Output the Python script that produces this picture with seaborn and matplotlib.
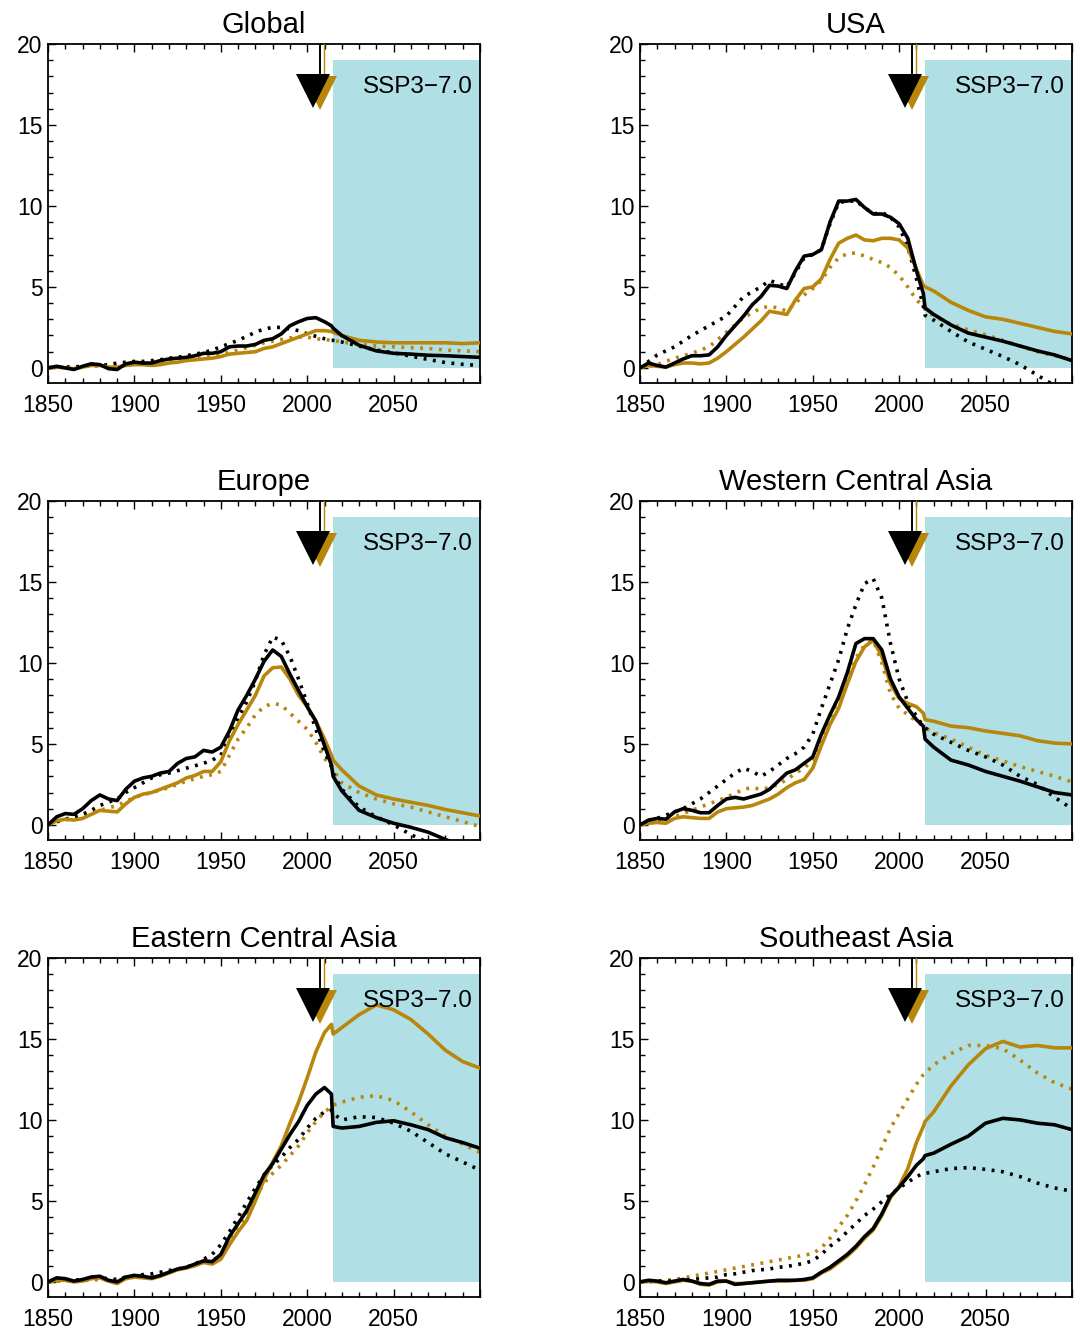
import matplotlib
matplotlib.use("Agg")
import matplotlib.pyplot as plt
from matplotlib.ticker import MultipleLocator
import seaborn as sns

# years shared by every series (5-yearly history, then the scenario)
years = [1850, 1855, 1860, 1865, 1870, 1875, 1880, 1885, 1890, 1895,
         1900, 1905, 1910, 1915, 1920, 1925, 1930, 1935, 1940, 1945,
         1950, 1955, 1960, 1965, 1970, 1975, 1980, 1985, 1990, 1995,
         2000, 2005, 2010, 2014, 2015, 2020, 2030, 2040, 2050, 2060,
         2070, 2080, 2090, 2100]

# Global
global_black = [0.0, 0.1, 0.0, -0.1, 0.1, 0.25, 0.2, -0.05, -0.1, 0.25,
                0.35, 0.3, 0.3, 0.45, 0.55, 0.6, 0.65, 0.75, 0.9, 0.9,
                1.0, 1.3, 1.35, 1.35, 1.45, 1.7, 1.8, 2.1, 2.6, 2.85,
                3.05, 3.1, 2.85, 2.6, 2.45, 2.0, 1.4, 1.05, 0.9, 0.85,
                0.78, 0.75, 0.7, 0.65]
global_black_dot = [0.0, 0.05, 0.05, 0.05, 0.1, 0.15, 0.15, 0.2, 0.3, 0.35,
                    0.4, 0.4, 0.45, 0.5, 0.6, 0.65, 0.75, 0.85, 0.95, 1.1,
                    1.3, 1.5, 1.7, 1.95, 2.2, 2.4, 2.5, 2.5, 2.4, 2.3,
                    2.1, 1.95, 1.8, 1.7, 1.7, 1.6, 1.35, 1.1, 0.93, 0.72,
                    0.52, 0.33, 0.22, 0.15]
global_gold = [0.0, 0.05, 0.0, -0.05, 0.05, 0.15, 0.15, 0.05, 0.05, 0.15,
               0.2, 0.2, 0.15, 0.2, 0.3, 0.35, 0.45, 0.5, 0.55, 0.6,
               0.7, 0.85, 0.9, 0.95, 1.0, 1.2, 1.3, 1.5, 1.7, 1.9,
               2.1, 2.3, 2.3, 2.25, 2.2, 2.0, 1.7, 1.6, 1.55, 1.55,
               1.55, 1.55, 1.5, 1.55]
global_gold_dot = [0.0, 0.05, 0.05, 0.05, 0.1, 0.1, 0.15, 0.15, 0.2, 0.25,
                   0.3, 0.3, 0.35, 0.4, 0.5, 0.55, 0.6, 0.65, 0.7, 0.75,
                   0.85, 0.95, 1.1, 1.25, 1.4, 1.55, 1.65, 1.75, 1.85, 1.9,
                   1.9, 1.8, 1.75, 1.7, 1.7, 1.6, 1.45, 1.35, 1.3, 1.25,
                   1.2, 1.1, 1.05, 1.0]

# USA
usa_black = [0.0, 0.3, 0.15, 0.05, 0.3, 0.55, 0.75, 0.75, 0.8, 1.3,
             2.0, 2.6, 3.2, 3.9, 4.4, 5.1, 5.05, 4.9, 6.0, 6.9,
             7.0, 7.3, 9.0, 10.3, 10.3, 10.4, 9.9, 9.5, 9.5, 9.3,
             8.9, 8.0, 6.0, 4.6, 3.7, 3.3, 2.65, 2.15, 1.9, 1.65,
             1.35, 1.05, 0.8, 0.45]
usa_black_dot = [0.0, 0.4, 0.8, 1.05, 1.3, 1.65, 2.0, 2.3, 2.6, 2.9,
                 3.2, 3.8, 4.4, 4.7, 5.0, 5.4, 5.2, 5.0, 5.9, 6.8,
                 7.0, 7.3, 8.9, 10.2, 10.3, 10.3, 9.9, 9.5, 9.6, 9.3,
                 8.7, 7.5, 5.5, 3.8, 3.25, 2.95, 2.25, 1.6, 1.15, 0.7,
                 0.2, -0.45, -1.1, -1.6]
usa_gold = [0.0, 0.15, 0.1, 0.05, 0.2, 0.3, 0.3, 0.25, 0.3, 0.6,
            1.0, 1.45, 1.9, 2.4, 2.9, 3.5, 3.4, 3.3, 4.2, 4.9,
            5.0, 5.5, 6.7, 7.7, 8.0, 8.2, 7.9, 7.85, 8.0, 8.0,
            7.9, 7.4, 6.1, 5.1, 5.0, 4.75, 4.05, 3.55, 3.15, 3.0,
            2.75, 2.5, 2.25, 2.1]
usa_gold_dot = [0.0, 0.1, 0.2, 0.4, 0.6, 0.75, 0.9, 1.1, 1.3, 1.75,
                2.2, 2.65, 3.1, 3.4, 3.7, 3.8, 3.7, 3.5, 4.0, 4.5,
                4.9, 5.4, 6.2, 6.8, 7.05, 7.1, 6.9, 6.7, 6.5, 6.2,
                5.7, 5.0, 4.2, 3.8, 3.6, 3.2, 2.7, 2.35, 2.05, 1.7,
                1.35, 1.0, 0.75, 0.5]

# Europe
europe_black = [0.0, 0.5, 0.7, 0.65, 1.0, 1.5, 1.85, 1.6, 1.5, 2.2,
                2.7, 2.9, 3.0, 3.2, 3.3, 3.8, 4.1, 4.2, 4.6, 4.5,
                4.8, 5.8, 7.1, 8.0, 9.0, 10.1, 10.8, 10.4, 9.3, 8.3,
                7.3, 6.4, 4.9, 3.7, 3.0, 2.1, 0.9, 0.45, 0.1, -0.15,
                -0.45, -0.9, -1.3, -1.7]
europe_black_dot = [0.0, 0.2, 0.35, 0.5, 0.65, 0.9, 1.2, 1.4, 1.6, 2.0,
                    2.3, 2.6, 2.9, 3.1, 3.2, 3.35, 3.5, 3.65, 3.8, 4.0,
                    4.3, 5.4, 6.6, 7.6, 8.9, 10.5, 11.6, 11.4, 10.4, 9.0,
                    7.5, 5.9, 4.5, 3.6, 3.2, 2.2, 1.1, 0.5, 0.0, -0.6,
                    -1.1, -1.5, -1.9, -2.3]
europe_gold = [0.0, 0.25, 0.35, 0.3, 0.4, 0.65, 0.9, 0.85, 0.8, 1.3,
               1.7, 1.9, 2.0, 2.2, 2.4, 2.6, 2.9, 3.05, 3.3, 3.3,
               3.9, 5.2, 6.2, 7.1, 8.0, 9.2, 9.7, 9.75, 9.0, 8.0,
               7.3, 6.4, 5.3, 4.3, 4.0, 3.4, 2.4, 1.85, 1.6, 1.4,
               1.2, 0.95, 0.75, 0.55]
europe_gold_dot = [0.0, 0.2, 0.3, 0.4, 0.5, 0.7, 0.9, 1.05, 1.2, 1.45,
                   1.7, 1.85, 2.0, 2.15, 2.3, 2.5, 2.7, 2.85, 3.0, 3.1,
                   3.3, 4.3, 5.3, 6.0, 6.8, 7.3, 7.5, 7.4, 6.9, 6.4,
                   5.9, 5.1, 4.1, 3.6, 3.4, 2.6, 2.0, 1.6, 1.3, 1.1,
                   0.8, 0.5, 0.2, -0.1]

# Western Central Asia
wca_black = [0.0, 0.3, 0.4, 0.35, 0.8, 1.0, 0.9, 0.75, 0.75, 1.2,
             1.6, 1.7, 1.6, 1.75, 1.9, 2.2, 2.7, 3.2, 3.4, 3.8,
             4.2, 5.6, 6.8, 7.9, 9.4, 11.2, 11.5, 11.5, 10.8, 9.0,
             7.9, 7.2, 6.5, 6.1, 5.3, 4.8, 4.0, 3.7, 3.3, 3.0,
             2.7, 2.35, 2.0, 1.85]
wca_black_dot = [0.0, 0.2, 0.4, 0.6, 0.8, 1.0, 1.3, 1.6, 2.0, 2.4,
                 2.8, 3.2, 3.5, 3.3, 3.0, 3.3, 3.7, 4.1, 4.4, 4.8,
                 5.6, 7.2, 8.7, 10.2, 12.1, 13.6, 14.9, 15.2, 14.0, 11.2,
                 9.0, 7.6, 6.7, 6.1, 6.0, 5.6, 5.1, 4.6, 4.2, 3.7,
                 3.0, 2.5, 1.7, 1.0]
wca_gold = [0.0, 0.1, 0.15, 0.1, 0.4, 0.5, 0.45, 0.4, 0.4, 0.8,
            1.0, 1.05, 1.1, 1.2, 1.4, 1.6, 1.9, 2.3, 2.6, 2.8,
            3.5, 4.9, 6.2, 7.2, 8.7, 10.1, 11.0, 11.4, 10.4, 8.7,
            7.8, 7.5, 7.3, 6.9, 6.5, 6.4, 6.1, 6.0, 5.8, 5.65,
            5.5, 5.2, 5.05, 5.0]
wca_gold_dot = [0.0, 0.15, 0.3, 0.4, 0.5, 0.7, 0.9, 1.1, 1.3, 1.5,
                1.7, 1.95, 2.2, 2.3, 2.2, 2.3, 2.5, 2.8, 3.2, 3.5,
                4.0, 5.3, 6.6, 7.8, 9.0, 10.3, 11.1, 11.4, 10.0, 8.1,
                7.2, 6.8, 6.4, 6.1, 6.0, 5.7, 5.3, 4.8, 4.3, 3.95,
                3.6, 3.3, 3.0, 2.65]

# Eastern Central Asia
eca_black = [0.0, 0.25, 0.2, 0.05, 0.15, 0.3, 0.35, 0.1, 0.0, 0.3,
             0.4, 0.35, 0.25, 0.4, 0.6, 0.8, 0.9, 1.1, 1.3, 1.25,
             1.7, 2.8, 3.6, 4.4, 5.5, 6.6, 7.3, 8.2, 9.1, 9.9,
             10.9, 11.6, 12.0, 11.6, 9.6, 9.5, 9.6, 9.85, 9.95, 9.7,
             9.4, 8.9, 8.6, 8.25]
eca_black_dot = [0.0, 0.1, 0.1, 0.1, 0.15, 0.2, 0.25, 0.2, 0.15, 0.3,
                 0.4, 0.45, 0.5, 0.6, 0.7, 0.8, 0.9, 1.1, 1.4, 1.7,
                 2.3, 3.1, 4.0, 4.9, 5.8, 6.6, 7.2, 7.7, 8.3, 8.8,
                 9.5, 10.1, 10.5, 10.6, 10.4, 10.0, 10.2, 10.15, 9.8, 9.3,
                 8.6, 7.9, 7.4, 6.9]
eca_gold = [0.0, 0.1, 0.1, 0.0, 0.05, 0.2, 0.25, 0.05, -0.1, 0.2,
            0.3, 0.25, 0.2, 0.35, 0.55, 0.75, 0.85, 1.0, 1.2, 1.1,
            1.4, 2.3, 3.1, 3.8, 5.0, 6.3, 7.4, 8.4, 9.8, 11.1,
            12.6, 14.2, 15.4, 15.9, 15.3, 15.7, 16.5, 17.1, 16.8, 16.2,
            15.3, 14.3, 13.6, 13.2]
eca_gold_dot = [0.0, 0.05, 0.05, 0.1, 0.1, 0.1, 0.15, 0.1, 0.1, 0.2,
                0.3, 0.35, 0.4, 0.5, 0.6, 0.75, 0.9, 1.05, 1.2, 1.35,
                1.6, 2.4, 3.3, 4.2, 5.2, 6.1, 6.7, 7.2, 7.8, 8.4,
                9.2, 9.9, 10.5, 10.8, 10.9, 11.1, 11.4, 11.5, 11.2, 10.5,
                9.7, 9.0, 8.5, 8.0]

# Southeast Asia
sea_black = [0.0, 0.1, 0.05, -0.05, 0.05, 0.15, 0.05, -0.1, -0.15, 0.05,
             0.05, -0.15, -0.1, -0.05, 0.0, 0.05, 0.1, 0.1, 0.1, 0.15,
             0.25, 0.6, 0.9, 1.3, 1.7, 2.2, 2.8, 3.3, 4.2, 5.3,
             5.85, 6.5, 7.2, 7.6, 7.8, 7.95, 8.5, 9.0, 9.8, 10.1,
             10.0, 9.8, 9.7, 9.4]
sea_black_dot = [0.0, 0.02, 0.05, 0.05, 0.05, 0.1, 0.15, 0.2, 0.25, 0.3,
                 0.45, 0.5, 0.6, 0.7, 0.75, 0.8, 0.9, 0.95, 1.05, 1.15,
                 1.3, 1.7, 2.2, 2.6, 3.1, 3.6, 4.1, 4.5, 4.95, 5.4,
                 5.8, 6.15, 6.5, 6.7, 6.7, 6.8, 7.0, 7.05, 6.95, 6.8,
                 6.5, 6.1, 5.8, 5.6]
sea_gold = [0.0, 0.05, 0.0, -0.1, 0.0, 0.1, 0.05, -0.15, -0.2, 0.0,
            0.05, -0.1, -0.1, -0.05, 0.0, 0.05, 0.05, 0.05, 0.1, 0.1,
            0.2, 0.55, 0.8, 1.2, 1.6, 2.1, 2.7, 3.2, 4.1, 5.2,
            5.9, 7.0, 8.6, 9.6, 9.9, 10.5, 12.1, 13.4, 14.4, 14.85,
            14.5, 14.6, 14.45, 14.45]
sea_gold_dot = [0.0, 0.02, 0.05, 0.1, 0.15, 0.25, 0.35, 0.45, 0.55, 0.65,
                0.75, 0.85, 0.95, 1.05, 1.15, 1.25, 1.35, 1.45, 1.55, 1.65,
                1.75, 2.1, 2.7, 3.4, 4.1, 5.0, 6.0, 7.1, 8.3, 9.5,
                10.4, 11.3, 12.2, 12.8, 12.9, 13.4, 14.1, 14.6, 14.6, 14.4,
                13.7, 12.9, 12.3, 11.9]

titles = ["Global", "USA", "Europe", "Western Central Asia",
          "Eastern Central Asia", "Southeast Asia"]
black_solid = [global_black, usa_black, europe_black, wca_black, eca_black, sea_black]
black_dotted = [global_black_dot, usa_black_dot, europe_black_dot, wca_black_dot,
                eca_black_dot, sea_black_dot]
gold_solid = [global_gold, usa_gold, europe_gold, wca_gold, eca_gold, sea_gold]
gold_dotted = [global_gold_dot, usa_gold_dot, europe_gold_dot, wca_gold_dot,
               eca_gold_dot, sea_gold_dot]

scenario_label = "SSP3\u22127.0"
scenario_start, scenario_end, shade_top = 2015, 2100, 19.0
# arrow markers at the top of each panel
black_tri_year, gold_tri_year, tri_level = 2003.6, 2007.4, 17.1
black_stem_year, gold_stem_year = 2007.4, 2009.9

GOLD = "#B8860B"
SHADE = "#B0E0E6"

sns.set_style("ticks")
plt.rcParams['font.family'] = ['Liberation Sans', 'DejaVu Sans']
plt.rcParams['axes.edgecolor'] = 'black'
plt.rcParams['xtick.color'] = 'black'
plt.rcParams['ytick.color'] = 'black'
plt.rcParams['text.color'] = 'black'

fig = plt.figure(figsize=(10.77, 13.32), dpi=100)
lefts = [0.0446, 0.5942]
bottoms = [0.7125, 0.3694, 0.0263]
width, height = 0.4011, 0.2545

lw = 2.6
dot_style = (0, (0.8, 1.8))

for i, title in enumerate(titles):
    ax = fig.add_axes([lefts[i % 2], bottoms[i // 2], width, height])

    # scenario period shading
    ax.fill_between([scenario_start, scenario_end], 0, shade_top,
                    color=SHADE, linewidth=0, zorder=0)

    sns.lineplot(x=years, y=gold_dotted[i], ax=ax, color=GOLD, lw=lw,
                 linestyle=dot_style, zorder=2)
    sns.lineplot(x=years, y=black_dotted[i], ax=ax, color="black", lw=lw,
                 linestyle=dot_style, zorder=3)
    sns.lineplot(x=years, y=gold_solid[i], ax=ax, color=GOLD, lw=lw, zorder=4)
    sns.lineplot(x=years, y=black_solid[i], ax=ax, color="black", lw=lw, zorder=5)

    # arrows marking the present day
    ax.plot([gold_stem_year, gold_stem_year], [20, tri_level], color=GOLD,
            lw=1.0, zorder=6, clip_on=False)
    ax.plot([gold_tri_year], [tri_level - 0.1], marker="v", ms=24, mew=0,
            color=GOLD, zorder=6, clip_on=False)
    ax.plot([black_stem_year, black_stem_year], [20, tri_level], color="black",
            lw=1.4, zorder=7, clip_on=False)
    ax.plot([black_tri_year], [tri_level], marker="v", ms=24, mew=0,
            color="black", zorder=7, clip_on=False)

    ax.text(0.984, 0.874, scenario_label, transform=ax.transAxes,
            ha="right", va="center", fontsize=17.5, zorder=8)

    ax.set_xlim(1850, 2100)
    ax.set_ylim(-0.93, 20)
    ax.set_xticks([1850, 1900, 1950, 2000, 2050, 2100])
    ax.set_xticklabels(["1850", "1900", "1950", "2000", "2050", ""])
    ax.set_yticks([0, 5, 10, 15, 20])
    ax.xaxis.set_minor_locator(MultipleLocator(10))
    ax.yaxis.set_minor_locator(MultipleLocator(1))
    ax.tick_params(which="both", direction="in", top=True, right=False,
                   width=1.0, labelsize=16.5)
    ax.tick_params(which="major", length=6)
    ax.tick_params(which="minor", length=3.5)
    ax.tick_params(axis="x", pad=8)
    ax.tick_params(axis="y", pad=4)
    for sp in ax.spines.values():
        sp.set_linewidth(1.3)
        sp.set_color("black")
    ax.set_xlabel("")
    ax.set_ylabel("")
    ax.set_title(title, fontsize=21, pad=8)

fig.savefig("out.png", dpi=100)
